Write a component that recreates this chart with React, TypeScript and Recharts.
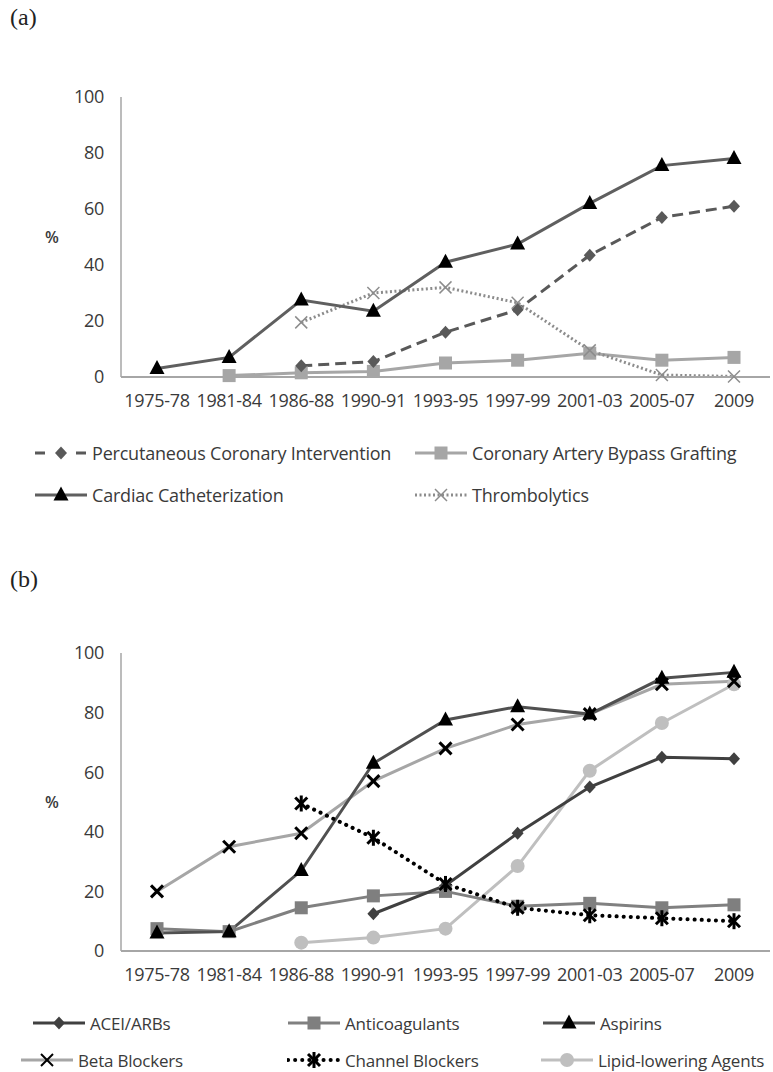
import { LineChart, Line, XAxis, YAxis } from 'recharts';

const years = ['1975-78', '1981-84', '1986-88', '1990-91', '1993-95', '1997-99', '2001-03', '2005-07', '2009'];
const yTicks = [0, 20, 40, 60, 80, 100];

// panel (a) - procedures
const pci = [null, null, 4, 5.5, 16, 24, 43.5, 57, 61];
const cabg = [null, 0.5, 1.5, 2, 5, 6, 8.5, 6, 7];
const cath = [3, 7, 27.5, 23.5, 41, 47.5, 62, 75.5, 78];
const thrombo = [null, null, 19.5, 30, 32, 26.5, 9.5, 0.7, 0.2];

// panel (b) - medications
const acei = [null, null, null, 12.5, 22, 39.5, 55, 65, 64.5];
const anticoag = [7.5, 6.5, 14.5, 18.5, 20, 15, 16, 14.5, 15.5];
const aspirin = [6, 6.5, 27, 63, 77.5, 82, 79.5, 91.5, 93.5];
const beta = [20, 35, 39.5, 57, 68, 76, 79.5, 89.5, 90.5];
const channel = [null, null, 49.5, 38, 22.5, 14.5, 12, 11, 10];
const lipid = [null, null, 2.8, 4.5, 7.5, 28.5, 60.5, 76.5, 89.5];

const dataA = years.map((year, i) => ({ year, pci: pci[i], cabg: cabg[i], cath: cath[i], thrombo: thrombo[i] }));
const dataB = years.map((year, i) => ({
  year, acei: acei[i], anticoag: anticoag[i], aspirin: aspirin[i],
  beta: beta[i], channel: channel[i], lipid: lipid[i],
}));

const FONT = '"Open Sans", sans-serif';
const TXT = '#3a3a3a';

type Shape = 'diamond' | 'square' | 'triangle' | 'x' | 'star' | 'circle';

function drawMarker(shape: Shape, cx: number, cy: number, color: string, thick = 3) {
  switch (shape) {
    case 'diamond':
      return <polygon points={`${cx},${cy - 6.5} ${cx + 6},${cy} ${cx},${cy + 6.5} ${cx - 6},${cy}`} fill={color} />;
    case 'square':
      return <rect x={cx - 6.5} y={cy - 6.5} width={13} height={13} fill={color} />;
    case 'triangle':
      return <polygon points={`${cx},${cy - 8.5} ${cx - 7.5},${cy + 5.5} ${cx + 7.5},${cy + 5.5}`} fill={color} />;
    case 'circle':
      return <circle cx={cx} cy={cy} r={7} fill={color} />;
    case 'x':
      return (
        <g stroke={color} strokeWidth={thick}>
          <line x1={cx - 6} y1={cy - 6} x2={cx + 6} y2={cy + 6} />
          <line x1={cx - 6} y1={cy + 6} x2={cx + 6} y2={cy - 6} />
        </g>
      );
    case 'star':
      return (
        <g stroke={color} strokeWidth={3}>
          <line x1={cx - 6} y1={cy - 6} x2={cx + 6} y2={cy + 6} />
          <line x1={cx - 6} y1={cy + 6} x2={cx + 6} y2={cy - 6} />
          <line x1={cx} y1={cy - 8} x2={cx} y2={cy + 8} />
        </g>
      );
  }
}

const dot = (shape: Shape, color: string, thick = 3) => (p: any) => {
  if (p.cx == null || p.cy == null || p.value == null) return <g key={p.key} />;
  return <g key={p.key}>{drawMarker(shape, p.cx, p.cy, color, thick)}</g>;
};

type Item = {
  label: string; left: number; top: number; shape: Shape; line: string; marker: string;
  dash?: string; width?: number; cap?: 'round' | 'butt'; thick?: number;
};

const legendA: Item[] = [
  { label: 'Percutaneous Coronary Intervention', left: 34, top: 453, shape: 'diamond', line: '#595959', marker: '#595959', dash: '10 31 10' },
  { label: 'Coronary Artery Bypass Grafting', left: 414, top: 453, shape: 'square', line: '#a6a6a6', marker: '#a6a6a6' },
  { label: 'Cardiac Catheterization', left: 34, top: 495, shape: 'triangle', line: '#5f5f5f', marker: '#000' },
  { label: 'Thrombolytics', left: 414, top: 495, shape: 'x', line: '#8c8c8c', marker: '#8c8c8c', dash: '2 2.5', thick: 1.5 },
];

const legendB: Item[] = [
  { label: 'ACEI/ARBs', left: 32, top: 1023, shape: 'diamond', line: '#404040', marker: '#404040' },
  { label: 'Anticoagulants', left: 287, top: 1023, shape: 'square', line: '#808080', marker: '#7f7f7f' },
  { label: 'Aspirins', left: 542, top: 1023, shape: 'triangle', line: '#505050', marker: '#000' },
  { label: 'Beta Blockers', left: 20, top: 1060, shape: 'x', line: '#a6a6a6', marker: '#000', thick: 2 },
  { label: 'Channel Blockers', left: 287, top: 1060, shape: 'star', line: '#000', marker: '#000', dash: '0.1 7', width: 4, cap: 'round' },
  { label: 'Lipid-lowering Agents', left: 540, top: 1060, shape: 'circle', line: '#bfbfbf', marker: '#bfbfbf' },
];

const LegendItem = ({ it, size }: { it: Item; size: number }) => (
  <div style={{ position: 'absolute', left: it.left, top: it.top - 12, height: 24, display: 'flex', alignItems: 'center', whiteSpace: 'nowrap' }}>
    <svg width={54} height={24}>
      <line x1={1} y1={12} x2={53} y2={12} stroke={it.line} strokeWidth={it.width ?? 3}
        strokeDasharray={it.dash} strokeLinecap={it.cap ?? 'butt'} />
      {drawMarker(it.shape, 27, 12, it.marker, it.thick ?? 3)}
    </svg>
    <span style={{ marginLeft: 4, fontFamily: FONT, fontSize: size, color: TXT, letterSpacing: -0.2 }}>{it.label}</span>
  </div>
);

const tickStyle = { fontFamily: FONT, fontSize: 18, fill: TXT, letterSpacing: -0.3 };

export default function App() {
  return (
    <div style={{ position: 'absolute', left: 0, top: 0, width: 773, height: 1072, background: '#fff', overflow: 'hidden' }}>
      <div style={{ position: 'absolute', left: 10, top: 4, fontFamily: '"Liberation Serif", serif', fontSize: 24, color: '#222' }}>(a)</div>
      <div style={{ position: 'absolute', left: 10, top: 566, fontFamily: '"Liberation Serif", serif', fontSize: 24, color: '#222' }}>(b)</div>
      <div style={{ position: 'absolute', left: 45, top: 226, fontFamily: FONT, fontSize: 16, fontWeight: 600, color: TXT }}>%</div>
      <div style={{ position: 'absolute', left: 45, top: 791, fontFamily: FONT, fontSize: 16, fontWeight: 600, color: TXT }}>%</div>

      <div style={{ position: 'absolute', left: 0, top: 0 }}>
        <LineChart width={773} height={430} data={dataA} margin={{ top: 97, right: 3, left: 81, bottom: 23 }}>
          <XAxis dataKey="year" interval={0} padding={{ left: 36, right: 36 }} tickLine={false} tickSize={0} tickMargin={17}
            axisLine={{ stroke: '#a6a6a6', strokeWidth: 2 }} tick={tickStyle} />
          <YAxis domain={[0, 100]} ticks={yTicks} width={40} tickLine={false} tickSize={0} tickMargin={17}
            axisLine={{ stroke: '#a6a6a6', strokeWidth: 1.5 }} tick={tickStyle} />
          <Line dataKey="cabg" stroke="#a6a6a6" strokeWidth={3} dot={dot('square', '#a6a6a6')} isAnimationActive={false} />
          <Line dataKey="thrombo" stroke="#8c8c8c" strokeWidth={3} strokeDasharray="2 2.5" dot={dot('x', '#8c8c8c', 1.5)} isAnimationActive={false} />
          <Line dataKey="pci" stroke="#595959" strokeWidth={3} strokeDasharray="11 6" dot={dot('diamond', '#595959')} isAnimationActive={false} />
          <Line dataKey="cath" stroke="#5f5f5f" strokeWidth={3} dot={dot('triangle', '#000')} isAnimationActive={false} />
        </LineChart>
      </div>

      <div style={{ position: 'absolute', left: 0, top: 560 }}>
        <LineChart width={773} height={450} data={dataB} margin={{ top: 93, right: 3, left: 81, bottom: 29 }}>
          <XAxis dataKey="year" interval={0} padding={{ left: 36, right: 36 }} tickLine={false} tickSize={0} tickMargin={17}
            axisLine={{ stroke: '#a6a6a6', strokeWidth: 2 }} tick={tickStyle} />
          <YAxis domain={[0, 100]} ticks={yTicks} width={40} tickLine={false} tickSize={0} tickMargin={17}
            axisLine={{ stroke: '#a6a6a6', strokeWidth: 1.5 }} tick={tickStyle} />
          <Line dataKey="lipid" stroke="#bfbfbf" strokeWidth={3} dot={dot('circle', '#bfbfbf')} isAnimationActive={false} />
          <Line dataKey="anticoag" stroke="#808080" strokeWidth={3} dot={dot('square', '#7f7f7f')} isAnimationActive={false} />
          <Line dataKey="beta" stroke="#a6a6a6" strokeWidth={3} dot={dot('x', '#000', 3)} isAnimationActive={false} />
          <Line dataKey="acei" stroke="#404040" strokeWidth={3} dot={dot('diamond', '#404040')} isAnimationActive={false} />
          <Line dataKey="aspirin" stroke="#505050" strokeWidth={3} dot={dot('triangle', '#000')} isAnimationActive={false} />
          <Line dataKey="channel" stroke="#000" strokeWidth={4} strokeDasharray="0.1 7" strokeLinecap="round" dot={dot('star', '#000')} isAnimationActive={false} />
        </LineChart>
      </div>

      {legendA.map((it) => <LegendItem key={it.label} it={it} size={18} />)}
      {legendB.map((it) => <LegendItem key={it.label} it={it} size={17} />)}
    </div>
  );
}
